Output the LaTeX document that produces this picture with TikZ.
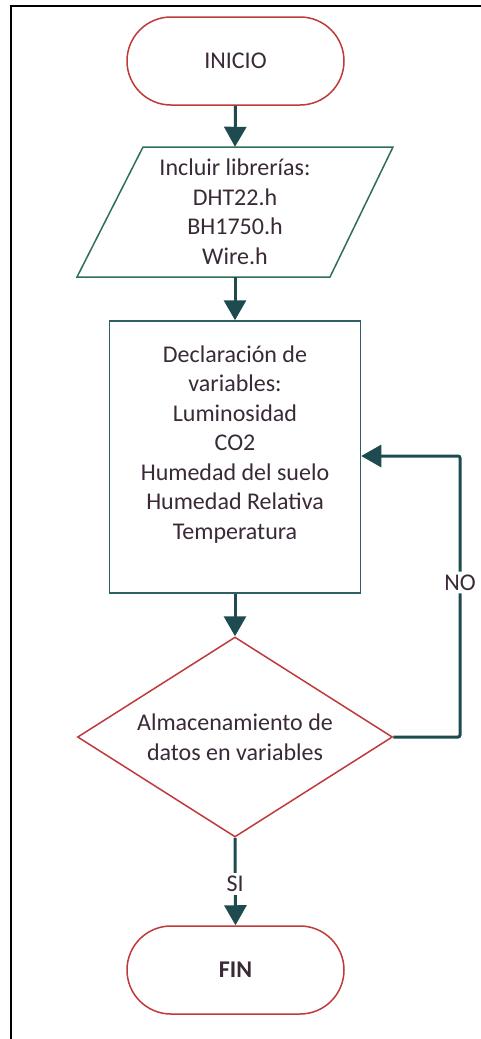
\documentclass[tikz,border=0pt]{standalone}
\usepackage{fontspec}
\setmainfont{Carlito}
\usetikzlibrary{arrows.meta,shapes.geometric}
\definecolor{termred}{HTML}{C0393B}
\definecolor{iogreen}{HTML}{2E6E5A}
\definecolor{procteal}{HTML}{2D5F63}
\definecolor{arrowteal}{HTML}{1E4B4F}
\definecolor{txt}{HTML}{3A2A38}
\begin{document}
\begin{tikzpicture}[x=1pt,y=-1pt,
  every node/.style={font=\fontsize{24}{29.5}\selectfont, text=txt, align=center},
  terminal/.style={draw=termred, line width=1.5pt, rounded corners=44pt,
    minimum width=217pt, minimum height=88pt, inner sep=0pt},
  process/.style={draw=procteal, line width=1.5pt, minimum width=251pt,
    minimum height=272pt, inner sep=0pt},
  decision/.style={diamond, draw=termred, line width=1.5pt, aspect=1.6,
    minimum width=315pt, minimum height=200pt, inner sep=0pt},
  flow/.style={draw=arrowteal, line width=3pt, -{Triangle[width=22pt,length=20pt]}},
  lbl/.style={fill=white, inner sep=3pt}
]
\useasboundingbox (0,0) rectangle (481,1039);
\fill[white] (0,0) rectangle (481,1039);
% frame
\draw[line width=2pt, black] (11,1039) -- (11,6) -- (481,6);

% nodes
\node[terminal] (inicio) at (235.5,61) {INICIO};
\draw[iogreen, line width=1.5pt] (143,147) -- (393,147) -- (330,277) -- (77,277) -- cycle;
\node[minimum height=130pt, minimum width=120pt, inner sep=0pt] (incl) at (235,212)
  {Incluir librerías:\\DHT22.h\\BH1750.h\\Wire.h};
\node[process] (decl) at (235,457)
  {Declaración de\\variables:\\Luminosidad\\CO2\\Humedad del suelo\\Humedad Relativa\\Temperatura\\\mbox{}};
\node[decision] (dec) at (235,737) {Almacenamiento de\\datos en variables};
\node[terminal, font=\fontsize{24}{29.5}\selectfont\bfseries] (fin) at (235.5,970) {FIN};
\coordinate (nc) at (460,456);

% connectors
\draw[flow] (inicio.south) -- (incl.north);
\draw[flow] (incl.south) -- (decl.north);
\draw[flow] (decl.south) -- (dec.north);
\draw[flow] (dec.south) -- node[lbl, pos=0.53] {SI} (fin.north);
\draw[flow, rounded corners=2pt] (dec.east) -- (dec.east -| nc) -- node[lbl, pos=0.55] {NO} (nc) -- (decl.east |- nc);
\end{tikzpicture}
\end{document}
